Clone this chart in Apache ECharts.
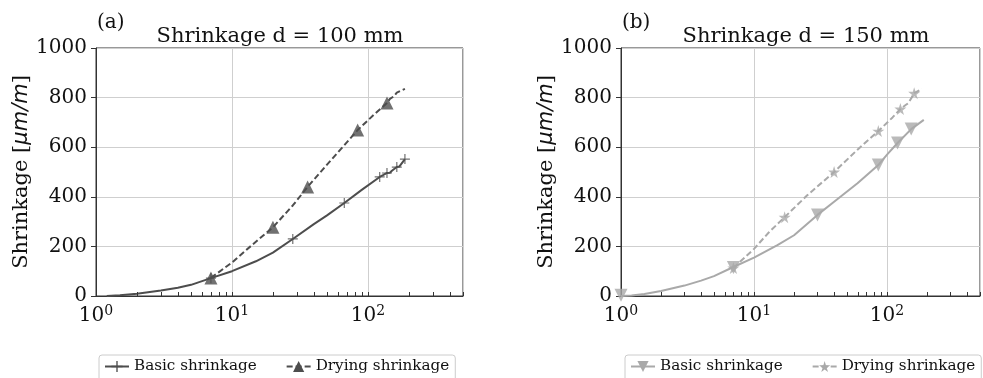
<!DOCTYPE html>
<html>
<head>
<meta charset="utf-8">
<script src="https://cdn.jsdelivr.net/npm/echarts@6/dist/echarts.min.js"></script>
<style>
  html, body { margin: 0; padding: 0; background: #fff; }
  #chart { width: 983px; height: 378px; }
</style>
</head>
<body>
<div id="chart"></div>
<script>
// curves, [age, shrinkage]
const basicA = [[1.2, 0], [1.5, 3], [2, 9], [3, 22], [4, 33], [5, 45], [7, 72], [10, 100], [15, 140], [20, 175], [28, 230], [40, 290], [50, 325], [67, 375], [90, 428], [122, 480], [130, 488], [138, 496], [145, 497], [150, 505], [163, 520], [170, 522], [187, 552]]
const dryingA = [[7, 73], [10, 135], [14, 205], [20, 277], [28, 365], [36, 440], [50, 530], [65, 600], [84, 669], [110, 730], [138, 778], [145, 795], [155, 805], [163, 820], [172, 826], [187, 835]]
const basicB = [[1, 0], [1.2, 2], [1.5, 8], [2, 20], [3, 42], [4, 62], [5, 80], [7, 117], [10, 155], [15, 205], [20, 245], [30, 327], [40, 380], [60, 455], [86, 528], [100, 570], [120, 617], [152, 673], [189, 710]]
const dryingB = [[7, 113], [10, 190], [13, 258], [17, 318], [25, 405], [40, 500], [60, 590], [86, 665], [110, 720], [126, 754], [138, 770], [145, 778], [160, 818], [183, 835]]

// marker positions
const markBasicA = [[7, 72], [28, 230], [67, 375], [122, 480], [138, 496], [163, 520], [187, 552]]
const markDryingA = [[7, 73], [20, 277], [36, 440], [84, 669], [138, 778]]
const markBasicB = [[1, 3], [7, 115], [30, 327], [86, 528], [120, 617], [152, 673]]
const markDryingB = [[7, 113], [17, 318], [40, 500], [86, 665], [126, 754], [160, 818]]

const minorTicks = [2, 3, 4, 5, 6, 7, 8, 9, 20, 30, 40, 50, 60, 70, 80, 90, 200, 300, 400]
const yTicks = { min: 0, max: 1000, interval: 200 }
const xRange = { min: 1, max: 500 }

const FONT = 'DejaVu Serif'
const AXIS = '#333333'
const GRIDLINE = '#cfcfcf'
const DARK = '#4d4d4d'
const LIGHT = '#a9a9a9'
const TEXT = '#111111'
const PLUS = 'path://M4.4,0h1.2v4.4h4.4v1.2h-4.4v4.4h-1.2v-4.4h-4.4v-1.2h4.4z'
const STAR = 'path://M50,0L61,35L98,35L68,57L79,91L50,70L21,91L32,57L2,35L39,35Z'

function makeX(i) {
  return {
    type: 'log',
    logBase: 10,
    gridIndex: i,
    min: xRange.min,
    max: xRange.max,
    axisLine: { show: true, lineStyle: { color: AXIS, width: 1 } },
    axisTick: { show: true, inside: true, length: 4, lineStyle: { color: AXIS } },
    splitLine: { show: true, lineStyle: { color: GRIDLINE, width: 1 } },
    axisLabel: {
      margin: 8,
      fontFamily: FONT,
      fontSize: 20,
      lineHeight: 24,
      color: TEXT,
      formatter: v => {
        const e = Math.round(Math.log10(v))
        return Math.abs(Math.log10(v) - e) < 1e-6 ? '10{sup|' + e + '}' : ''
      },
      rich: {
        sup: { fontFamily: FONT, fontSize: 14, lineHeight: 14, verticalAlign: 'top', color: TEXT }
      }
    }
  }
}

function makeY(i) {
  return {
    type: 'value',
    gridIndex: i,
    min: yTicks.min,
    max: yTicks.max,
    interval: yTicks.interval,
    name: 'Shrinkage [{i|μm/m}]',
    nameLocation: 'middle',
    nameGap: 64,
    nameTextStyle: {
      fontFamily: FONT,
      fontSize: 21,
      color: TEXT,
      rich: { i: { fontFamily: 'DejaVu Sans', fontStyle: 'italic', fontSize: 21, color: TEXT } }
    },
    axisLine: { show: true, lineStyle: { color: AXIS, width: 1 } },
    axisTick: { show: true, inside: false, length: 5, lineStyle: { color: AXIS } },
    splitLine: { show: true, lineStyle: { color: GRIDLINE, width: 1 } },
    axisLabel: { margin: 9, fontFamily: FONT, fontSize: 20, color: TEXT, formatter: v => String(v) }
  }
}

function curve(name, i, data, color, dashed, symbol, size, rotate) {
  return {
    name: name,
    type: 'line',
    xAxisIndex: i,
    yAxisIndex: i,
    data: data,
    symbol: symbol,
    symbolSize: size,
    symbolRotate: rotate || 0,
    showSymbol: false,
    lineStyle: { color: color, width: 2, type: dashed ? [6, 3] : 'solid' },
    itemStyle: { color: color, borderWidth: 0 },
    z: 3
  }
}

function marks(i, data, color, symbol, size, rotate) {
  return {
    type: 'scatter',
    xAxisIndex: i,
    yAxisIndex: i,
    data: data,
    symbol: symbol,
    symbolSize: size,
    symbolRotate: rotate || 0,
    itemStyle: { color: color },
    z: 4
  }
}

// log axis minor ticks at 2..9 of each decade
function minor(i) {
  return {
    type: 'custom',
    xAxisIndex: i,
    yAxisIndex: i,
    silent: true,
    clip: false,
    z: 10,
    data: minorTicks.map(v => [v, 0]),
    renderItem: (params, api) => {
      const p = api.coord([api.value(0), 0])
      const x = Math.round(p[0]) + 0.5
      return {
        type: 'line',
        z2: 10,
        shape: { x1: x, y1: p[1], x2: x, y2: p[1] - 4 },
        style: { stroke: AXIS, lineWidth: 1, fill: null }
      }
    }
  }
}

function legend(names, left) {
  return {
    data: names,
    left: left,
    top: 355,
    width: 420,
    orient: 'horizontal',
    itemWidth: 24,
    itemHeight: 14,
    itemGap: 29,
    padding: [4, 6, 10, 5],
    borderColor: '#cccccc',
    borderWidth: 1,
    borderRadius: 3,
    backgroundColor: '#fff',
    selectedMode: false,
    formatter: n => n.replace(/ \(.\)$/, ''),
    textStyle: { fontFamily: FONT, fontSize: 15.2, color: TEXT }
  }
}

function label(text, x, y, size, align) {
  return {
    type: 'text',
    x: x,
    y: y,
    style: { text: text, fontFamily: FONT, fontSize: size, fill: TEXT, align: align, verticalAlign: 'middle' }
  }
}

const chart = echarts.init(document.getElementById('chart'), null, { renderer: 'canvas' })
chart.setOption({
  animation: false,
  backgroundColor: '#fff',
  grid: [
    { left: 96, top: 48, width: 367, height: 248, show: true, borderColor: AXIS, borderWidth: 1, backgroundColor: 'transparent' },
    { left: 621, top: 48, width: 370, height: 248, show: true, borderColor: AXIS, borderWidth: 1, backgroundColor: 'transparent' }
  ],
  xAxis: [makeX(0), makeX(1)],
  yAxis: [makeY(0), makeY(1)],
  legend: [
    legend(['Basic shrinkage (a)', 'Drying shrinkage (a)'], 99),
    legend(['Basic shrinkage (b)', 'Drying shrinkage (b)'], 625)
  ],
  graphic: [
    label('(a)', 97, 23, 20, 'left'),
    label('Shrinkage d = 100 mm', 280, 37, 21, 'center'),
    label('(b)', 622, 23, 20, 'left'),
    label('Shrinkage d = 150 mm', 806, 37, 21, 'center')
  ],
  series: [
    curve('Basic shrinkage (a)', 0, basicA, DARK, false, PLUS, 10),
    curve('Drying shrinkage (a)', 0, dryingA, DARK, true, 'triangle', 13),
    marks(0, markBasicA, DARK, PLUS, 10),
    marks(0, markDryingA, DARK, 'triangle', 13),
    minor(0),
    curve('Basic shrinkage (b)', 1, basicB, LIGHT, false, 'triangle', 13, 180),
    curve('Drying shrinkage (b)', 1, dryingB, LIGHT, true, STAR, 12),
    marks(1, markBasicB, LIGHT, 'triangle', 13, 180),
    marks(1, markDryingB, LIGHT, STAR, 12),
    minor(1)
  ]
})
</script>
</body>
</html>
